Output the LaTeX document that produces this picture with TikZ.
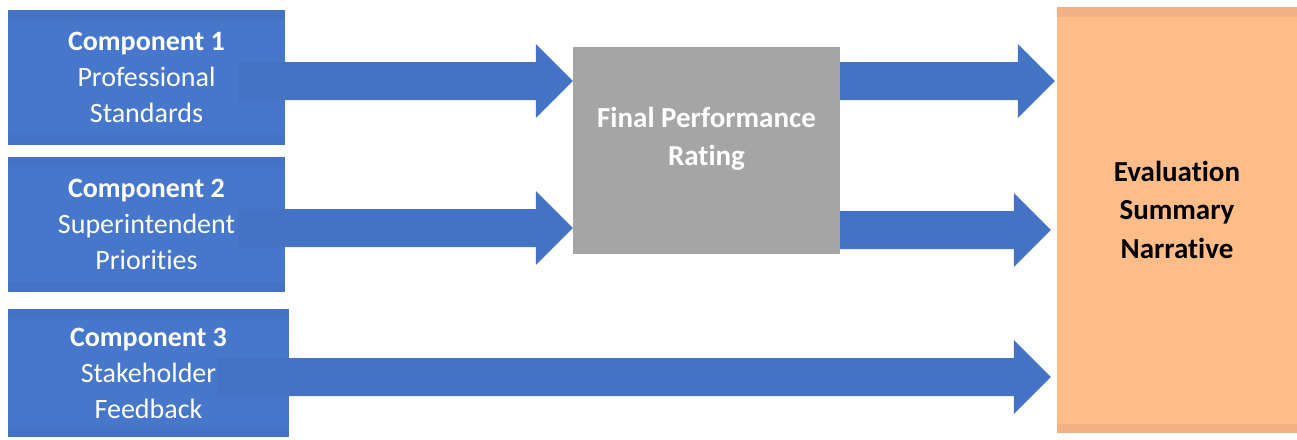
\documentclass[tikz,border=0pt]{standalone}
\usepackage{fontspec}
\setmainfont{Carlito}[Ligatures=CommonOff]
\usepackage{tikz}
\usetikzlibrary{positioning, calc}
\definecolor{arrowblue}{RGB}{68,114,196}
\definecolor{boxblue}{RGB}{70,119,203}
\definecolor{ratinggray}{RGB}{165,165,165}
\definecolor{peach}{RGB}{253,188,136}
\definecolor{peachedge}{RGB}{244,177,131}
\tikzset{
  compbox/.style={rectangle, fill=boxblue, text=white, align=center,
    minimum width=277pt, minimum height=135pt, inner sep=0pt,
    font=\fontsize{28}{36}\selectfont,
    path picture={
      \fill[arrowblue] (path picture bounding box.north west) rectangle ([yshift=-10pt]path picture bounding box.north east);
      \fill[arrowblue] (path picture bounding box.south west) rectangle ([yshift=10pt]path picture bounding box.south east);}},
  ratingbox/.style={rectangle, fill=ratinggray, inner sep=0pt,
    minimum width=267pt, minimum height=207pt},
  summarybox/.style={rectangle, fill=peach, inner sep=0pt,
    minimum width=240pt, minimum height=426pt,
    path picture={
      \fill[peachedge] (path picture bounding box.north west) rectangle ([yshift=-10pt]path picture bounding box.north east);
      \fill[peachedge] (path picture bounding box.south west) rectangle ([yshift=9pt]path picture bounding box.south east);}},
  boldtext/.style={align=center, font=\fontsize{29}{38.5}\selectfont\bfseries}
}
\newcommand{\bigarrow}[2]{%
  \fill[arrowblue] let \p1=(#1), \p2=(#2) in
    (\x1,\y1+19pt) -- (\x2-37pt,\y1+19pt) -- (\x2-37pt,\y1+37pt) -- (\x2,\y1)
    -- (\x2-37pt,\y1-37pt) -- (\x2-37pt,\y1-19pt) -- (\x1,\y1-19pt) -- cycle;}

\begin{document}
\begin{tikzpicture}[x=1pt, y=-1pt]
  \useasboundingbox (0,0) rectangle (1297,439);

  % Components
  \node[compbox] (comp1) at (146.5,77.5) {\textbf{Component 1}\\Professional\\Standards};
  \node[compbox] (comp2) at (146.5,224.5) {\textbf{Component 2}\\Superintendent\\Priorities};
  \node[compbox, minimum width=281pt, minimum height=128pt] (comp3) at (148.5,373) {\textbf{Component 3}\\Stakeholder\\Feedback};

  % Rating and summary
  \node[ratingbox, label={[boldtext, text=white, yshift=11.5pt]center:{Final Performance\\Rating}}] (rating) at (706.5,150.5) {};
  \node[summarybox, label={[boldtext, text=black, yshift=10.5pt]center:{Evaluation\\Summary\\Narrative}}] (summary) at (1177,220) {};

  % Arrows
  \coordinate (a1s) at ($(comp1.east)+(-47,3.5)$);
  \coordinate (a1e) at (rating.west |- a1s);
  \coordinate (a2s) at ($(comp2.east)+(-47,3.5)$);
  \coordinate (a2e) at (rating.west |- a2s);
  \coordinate (a3s) at (rating.east |- a1s);
  \coordinate (a3e) at ($(summary.west |- a1s)+(-2,0)$);
  \coordinate (a4s) at ($(rating.east |- a2s)+(0,2)$);
  \coordinate (a4e) at ($(summary.west |- a4s)+(-6,0)$);
  \coordinate (a5s) at ($(comp3.east)+(-72,4)$);
  \coordinate (a5e) at ($(summary.west |- a5s)+(-6,0)$);

  \bigarrow{a1s}{a1e}
  \bigarrow{a2s}{a2e}
  \bigarrow{a3s}{a3e}
  \bigarrow{a4s}{a4e}
  \bigarrow{a5s}{a5e}
\end{tikzpicture}
\end{document}
